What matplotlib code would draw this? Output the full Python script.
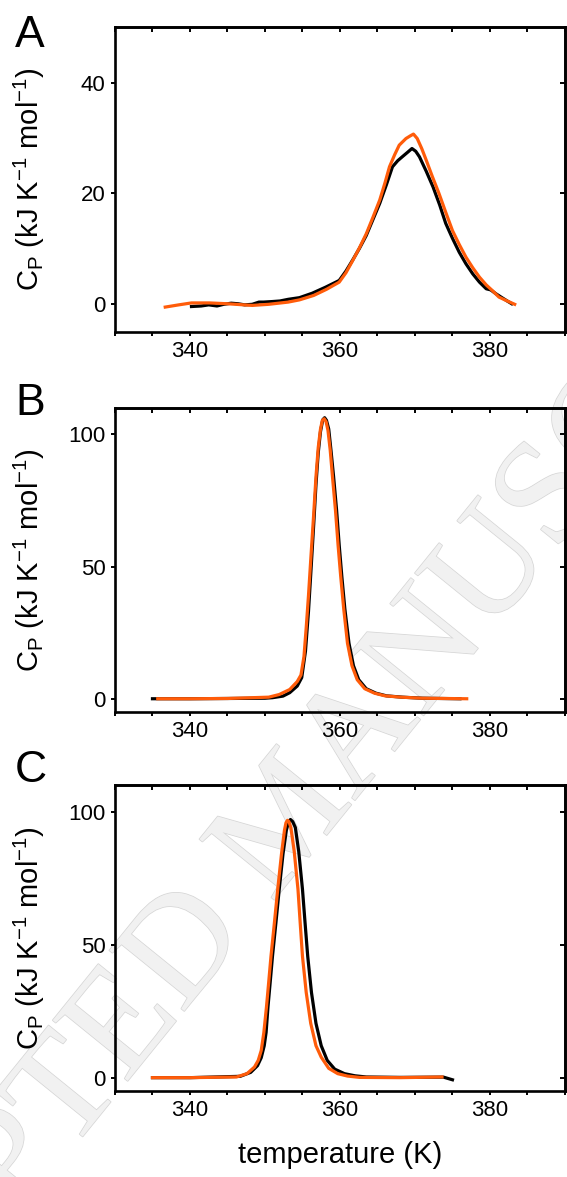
import matplotlib
matplotlib.use("Agg")
import matplotlib.pyplot as plt
from matplotlib.ticker import MultipleLocator
import matplotlib.patheffects as pe

plt.rcParams['font.family'] = ['Liberation Sans', 'DejaVu Sans']
plt.rcParams['mathtext.default'] = 'regular'

# panel A: experimental (black) and fit (orange)
a_black_t = [340.2, 341.5, 342.5, 343.6, 344.5, 345.5, 346.4, 347.3, 348.3, 349.2, 349.8,
             351.0, 352.0, 353.1, 354.6, 356.3, 358.1, 359.9, 360.8, 361.7, 362.6, 363.5,
             364.4, 365.3, 366.2, 367.0, 367.7, 368.3, 369.0, 369.6, 370.1, 370.6, 371.5,
             372.4, 373.3, 374.1, 375.0, 375.9, 376.8, 377.7, 378.6, 379.5, 380.1, 380.8,
             381.6, 382.3, 382.9]
a_black_cp = [-0.4, -0.3, -0.1, -0.3, 0.0, 0.2, 0.1, -0.1, 0.0, 0.4, 0.4,
              0.5, 0.6, 0.9, 1.2, 2.0, 3.1, 4.3, 6.0, 8.0, 10.1, 12.4,
              15.3, 18.2, 21.6, 24.8, 25.9, 26.6, 27.4, 28.1, 27.6, 26.6, 24.0,
              21.2, 17.9, 14.6, 11.9, 9.4, 7.3, 5.5, 4.0, 2.8, 2.6, 1.9,
              1.2, 0.6, 0.1]
a_fit_t = [336.7, 338.5, 340.2, 342.6, 345.0, 348.3, 350.5, 353.1, 354.6, 356.5, 358.2,
           359.9, 360.8, 361.7, 362.6, 363.5, 364.4, 365.3, 366.0, 366.6, 367.3, 367.9,
           368.8, 369.4, 369.8, 370.3, 370.9, 371.5, 372.3, 373.2, 374.1, 375.0, 375.9,
           376.8, 377.7, 378.6, 379.5, 380.3, 381.2, 382.3, 383.3]
a_fit_cp = [-0.5, -0.1, 0.25, 0.25, 0.1, -0.2, 0.0, 0.4, 0.8, 1.6, 2.7,
            4.0, 5.7, 7.9, 10.2, 12.7, 15.7, 18.8, 21.9, 24.8, 27.0, 28.7,
            29.9, 30.4, 30.7, 29.9, 28.1, 26.0, 23.1, 20.0, 16.6, 13.3, 10.8,
            8.5, 6.6, 4.9, 3.5, 2.5, 1.3, 0.6, 0.0]

# panel B
b_black_t = [335.0, 340.0, 345.0, 350.0, 351.0, 352.4, 353.3, 354.3, 354.9, 355.4, 355.8,
             356.1, 356.5, 356.8, 357.1, 357.4, 357.7, 357.95, 358.2, 358.5, 358.8, 359.15,
             359.55, 359.9, 360.25, 360.65, 361.2, 361.8, 362.5, 363.5, 364.8, 366.2, 368.3,
             371.0, 376.0]
b_black_cp = [0, 0, 0.1, 0.2, 0.4, 1.0, 2.3, 4.8, 8.0, 18, 33,
              47, 66, 81, 93, 101, 105.5, 106.3, 105.3, 102, 94, 84,
              71.3, 58, 46.2, 34, 21, 12.5, 7.2, 3.8, 2.1, 1.1, 0.6,
              0.2, 0]
b_fit_t = [335.7, 340.0, 345.0, 350.5, 351.9, 353.3, 354.3, 354.8, 355.2, 355.5, 355.8,
           356.1, 356.5, 356.8, 357.1, 357.4, 357.65, 357.9, 358.15, 358.4, 358.7, 359.0,
           359.4, 359.75, 360.1, 360.5, 361.0, 361.6, 362.3, 363.3, 364.6, 366.0, 368.1,
           371.0, 376.9]
b_fit_cp = [0, 0, 0.1, 0.6, 1.6, 3.5, 6.5, 9.0, 16, 27, 39,
            52.5, 70, 84, 95, 102, 105.3, 105.9, 104.8, 101.5, 94, 84,
            71.3, 58, 46.2, 34, 21.0, 12.5, 7.2, 3.8, 2.1, 1.1, 0.6,
            0.2, 0]

# panel C
c_black_t = [335.0, 340.0, 346.7, 348.1, 349.0, 349.5, 349.9, 350.15, 350.4, 350.7, 351.0,
             351.45, 351.9, 352.4, 352.85, 353.15, 353.4, 353.7, 354.05, 354.5, 355.0, 355.35,
             355.7, 356.2, 356.8, 357.5, 358.3, 359.3, 360.6, 362.0, 363.5, 368.0, 373.8,
             375.0]
c_black_cp = [0, 0, 0.5, 2, 4.5, 7.5, 12, 17, 26.6, 36, 45.6,
              58, 70.8, 84, 93, 96.2, 97, 96.2, 94, 85, 70.8, 58,
              45.6, 32, 20.4, 12, 6.5, 3.2, 1.5, 0.7, 0.25, 0.1, 0.2,
              -0.8]
c_fit_t = [335.0, 340.0, 346.2, 347.6, 348.6, 349.1, 349.5, 349.85, 350.2, 350.5, 350.8,
           351.25, 351.7, 352.2, 352.6, 352.8, 353.0, 353.2, 353.45, 353.9, 354.4, 354.7,
           355.0, 355.5, 356.1, 356.8, 357.5, 358.5, 359.7, 361.0, 362.6, 368.0, 373.6]
c_fit_cp = [0, 0, 0.25, 1.5, 4, 6.5, 10.2, 17, 26.6, 36, 45.6,
            58, 70.8, 84, 93, 95.8, 96.7, 96.2, 94, 85, 70.8, 58,
            45.6, 32, 20.4, 12, 7.7, 3.5, 1.5, 0.6, 0.1, 0, 0.25]

panels = [
    ('A', a_black_t, a_black_cp, a_fit_t, a_fit_cp, (-5, 50), 20, [0.2028, 0.7179, 0.7936, 0.2591], 47),
    ('B', b_black_t, b_black_cp, b_fit_t, b_fit_cp, (-5, 110), 50, [0.2028, 0.3951, 0.7936, 0.2583], 415),
    ('C', c_black_t, c_black_cp, c_fit_t, c_fit_cp, (-5, 110), 50, [0.2028, 0.0731, 0.7936, 0.2600], 782),
]

fig = plt.figure(figsize=(5.67, 11.77), dpi=100)

# faint "accepted manuscript" watermark behind the plots
fig.text(292 / 567, 1 - 822 / 1177, 'ACCEPTED MANUSCRIPT', rotation=51,
         rotation_mode='anchor', ha='center', va='center', fontsize=106,
         family='Liberation Serif', color='#f1f1f1', zorder=-1,
         path_effects=[pe.Stroke(linewidth=1.1, foreground='#d6d6d6'), pe.Normal()])

orange = '#ff5c0a'
for letter, bt, bc, ft, fc, ylim, ystep, pos, base_y in panels:
    ax = fig.add_axes(pos)
    ax.set_facecolor('none')
    ax.plot(bt, bc, color='black', lw=2.3)
    ax.plot(ft, fc, color=orange, lw=2.3)
    ax.set_xlim(330, 390)
    ax.set_ylim(*ylim)
    ax.xaxis.set_major_locator(MultipleLocator(20))
    ax.xaxis.set_minor_locator(MultipleLocator(5))
    ax.yaxis.set_major_locator(MultipleLocator(ystep))
    for s in ax.spines.values():
        s.set_linewidth(1.9)
    ax.tick_params(which='both', direction='out', length=3.2, width=1.4,
                   labelsize=16, pad=3.5)

    top = ax.secondary_xaxis('top')
    top.xaxis.set_major_locator(MultipleLocator(20))
    top.xaxis.set_minor_locator(MultipleLocator(5))
    top.tick_params(which='both', direction='in', length=3.5, width=1.4, labeltop=False)
    top.spines['top'].set_linewidth(1.9)
    right = ax.secondary_yaxis('right')
    right.yaxis.set_major_locator(MultipleLocator(ystep))
    right.tick_params(direction='in', length=3.5, width=1.4, labelright=False)
    right.spines['right'].set_linewidth(1.9)

    ax.set_ylabel(r'C$_{P}$ (kJ K$^{-1}$ mol$^{-1}$)', fontsize=21)
    ax.yaxis.set_label_coords(-0.15, 0.5)

    fig.text(15 / 567, 1 - base_y / 1177, letter, fontsize=32, ha='left', va='baseline')

ax.set_xlabel('temperature (K)', fontsize=21)
ax.xaxis.set_label_coords(0.5, -0.165)
ax.xaxis.label.set_va('top')

fig.savefig('out.png', dpi=100)
